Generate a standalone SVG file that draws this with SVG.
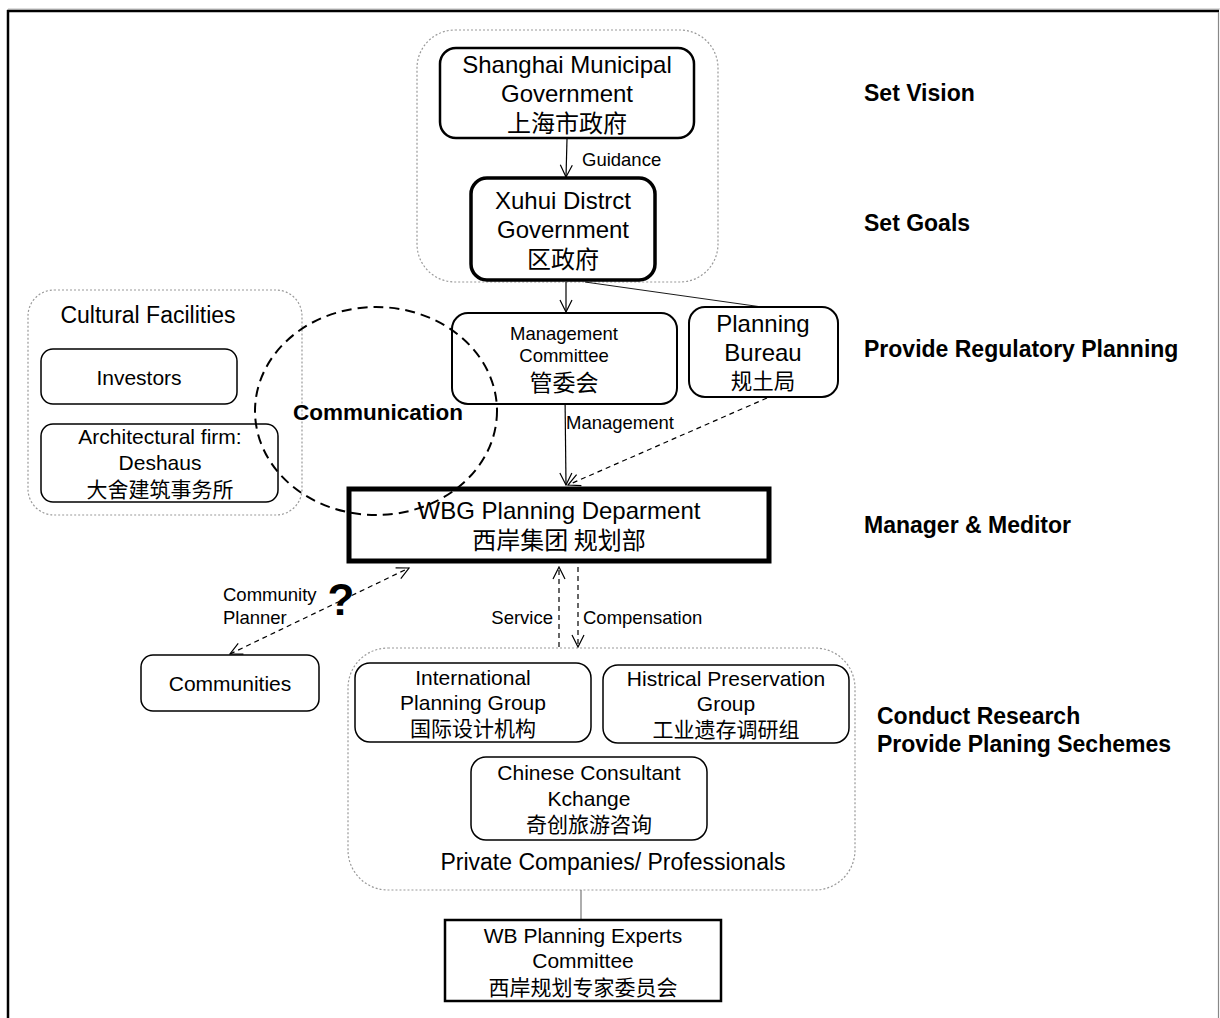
<svg xmlns="http://www.w3.org/2000/svg" width="1220" height="1018" viewBox="0 0 1220 1018">
<defs>
<marker id="open" viewBox="0 0 14 14" refX="13" refY="7" markerWidth="14" markerHeight="14" markerUnits="userSpaceOnUse" orient="auto-start-reverse">
<path d="M1,1 L13,7 L1,13" fill="none" stroke="#000" stroke-width="1.2"/>
</marker>
</defs>
<style>
text{font-family:"Liberation Sans",Arial,"Noto Sans CJK SC",sans-serif;fill:#000;text-anchor:middle}
.cn{font-family:"Noto Sans CJK SC","Liberation Sans",sans-serif}
.box{fill:#fff;stroke:#000}
.grp{fill:none;stroke:#999;stroke-width:1.2;stroke-dasharray:2,2}
.lbl{font-weight:bold;font-size:23px;text-anchor:start}
.t24{font-size:24px}
.t21{font-size:21px}
.t18{font-size:18.5px}
.conn{fill:none;stroke:#000;stroke-width:1.2}
.dash{stroke-dasharray:5,4}
</style>
<rect width="1220" height="1018" fill="#fff"/>
<g id="frame">
<line x1="8" y1="9" x2="1220" y2="9" stroke="#bbb" stroke-width="1"/>
<line x1="7" y1="11" x2="1219" y2="11" stroke="#000" stroke-width="2.5"/>
<line x1="8" y1="10" x2="8" y2="1018" stroke="#000" stroke-width="2.5"/>
<line x1="1218.5" y1="12" x2="1218.5" y2="1018" stroke="#888" stroke-width="1.2"/>
</g>
<g id="groups">
<rect class="grp" x="417" y="30" width="301" height="252" rx="38"/>
<rect class="grp" x="28" y="290" width="274" height="225" rx="26"/>
<rect class="grp" x="348" y="648" width="507" height="242" rx="40"/>
</g>
<g id="connectors">
<line class="conn" x1="567" y1="139" x2="566" y2="177" marker-end="url(#open)"/>
<line class="conn" x1="566" y1="282" x2="566" y2="312" marker-end="url(#open)"/>
<line class="conn" x1="585" y1="282" x2="762" y2="307" style="stroke-width:0.9"/>
<line class="conn" x1="565" y1="395" x2="566" y2="485" marker-end="url(#open)"/>
<line class="conn dash" x1="767" y1="398" x2="568" y2="485" marker-end="url(#open)"/>
<line class="conn dash" x1="230" y1="654" x2="409" y2="568" marker-start="url(#open)" marker-end="url(#open)"/>
<line class="conn dash" x1="559" y1="647" x2="559" y2="567" marker-end="url(#open)"/>
<line class="conn dash" x1="578" y1="567" x2="578" y2="647" marker-end="url(#open)"/>
<line class="conn" x1="581" y1="890" x2="581" y2="920" style="stroke:#777"/>
</g>
<g id="shanghai">
<rect class="box" x="440" y="48" width="254" height="90" rx="16" style="stroke-width:2.5"/>
<text class="t24" x="567" y="73">Shanghai Municipal</text>
<text class="t24" x="567" y="102">Government</text>
<text class="t24 cn" x="567" y="132">上海市政府</text>
</g>
<text class="t18" x="582" y="166" style="text-anchor:start">Guidance</text>
<g id="xuhui">
<rect class="box" x="471" y="178" width="184" height="102" rx="16" style="stroke-width:3.5"/>
<text class="t24" x="563" y="209">Xuhui Distrct</text>
<text class="t24" x="563" y="238">Government</text>
<text class="t24 cn" x="563" y="268">区政府</text>
</g>
<g id="management-committee">
<rect class="box" x="452" y="313" width="225" height="91" rx="16" style="stroke-width:2"/>
<text class="t18" x="564" y="340">Management</text>
<text class="t18" x="564" y="362">Committee</text>
<text class="cn" x="564" y="391" font-size="23">管委会</text>
</g>
<g id="planning-bureau">
<rect class="box" x="689" y="307" width="149" height="90" rx="16" style="stroke-width:2"/>
<text class="t24" x="763" y="332">Planning</text>
<text class="t24" x="763" y="361">Bureau</text>
<text class="cn" x="763" y="389" font-size="21.5">规土局</text>
</g>
<text class="t18" x="566" y="429" style="text-anchor:start">Management</text>
<g id="cultural">
<text x="148" y="323" font-size="23">Cultural Facilities</text>
</g>
<g id="investors">
<rect class="box" x="41" y="349" width="196" height="55" rx="12" style="stroke-width:1.5"/>
<text class="t21" x="139" y="385">Investors</text>
</g>
<g id="architectural-firm">
<rect class="box" x="41" y="424" width="237" height="78" rx="12" style="stroke-width:1.5"/>
<text class="t21" x="160" y="444">Architectural firm:</text>
<text class="t21" x="160" y="470">Deshaus</text>
<text class="t21 cn" x="160" y="497">大舍建筑事务所</text>
</g>
<g id="wbg">
<rect class="box" x="349" y="489" width="420" height="72" style="stroke-width:5"/>
</g>
<g id="communication">
<ellipse cx="376" cy="411" rx="121" ry="104" fill="none" stroke="#000" stroke-width="2" stroke-dasharray="10,6"/>
<text x="378" y="420" font-size="22.5" font-weight="bold">Communication</text>
</g>
<text class="t24" x="559" y="519">WBG Planning Deparment</text>
<text class="t24 cn" x="559" y="549">西岸集团 规划部</text>
<g id="communities">
<rect class="box" x="141" y="655" width="178" height="56" rx="12" style="stroke-width:1.5"/>
<text class="t21" x="230" y="691">Communities</text>
</g>
<text class="t18" x="223" y="601" style="text-anchor:start">Community</text>
<text class="t18" x="223" y="624" style="text-anchor:start">Planner</text>
<text x="341" y="615" font-size="44" font-weight="bold">?</text>
<text class="t18" x="553" y="624" style="text-anchor:end">Service</text>
<text class="t18" x="583" y="624" style="text-anchor:start">Compensation</text>
<g id="international">
<rect class="box" x="355" y="663" width="236" height="79" rx="15" style="stroke-width:1.5"/>
<text class="t21" x="473" y="685">International</text>
<text class="t21" x="473" y="710">Planning Group</text>
<text class="t21 cn" x="473" y="736">国际设计机构</text>
</g>
<g id="historical">
<rect class="box" x="603" y="665" width="246" height="78" rx="15" style="stroke-width:1.5"/>
<text class="t21" x="726" y="686">Histrical Preservation</text>
<text class="t21" x="726" y="711">Group</text>
<text class="t21 cn" x="726" y="737">工业遗存调研组</text>
</g>
<g id="chinese-consultant">
<rect class="box" x="471" y="757" width="236" height="83" rx="15" style="stroke-width:1.5"/>
<text class="t21" x="589" y="780">Chinese Consultant</text>
<text class="t21" x="589" y="806">Kchange</text>
<text class="t21 cn" x="589" y="832">奇创旅游咨询</text>
</g>
<text x="613" y="870" font-size="23">Private Companies/ Professionals</text>
<g id="experts">
<rect class="box" x="445" y="920" width="276" height="81" style="stroke-width:2.5"/>
<text class="t21" x="583" y="943">WB Planning Experts</text>
<text class="t21" x="583" y="968">Committee</text>
<text class="t21 cn" x="583" y="995">西岸规划专家委员会</text>
</g>
<g id="labels">
<text class="lbl" x="864" y="101">Set Vision</text>
<text class="lbl" x="864" y="231">Set Goals</text>
<text class="lbl" x="864" y="357">Provide Regulatory Planning</text>
<text class="lbl" x="864" y="533">Manager &amp; Meditor</text>
<text class="lbl" x="877" y="724">Conduct Research</text>
<text class="lbl" x="877" y="752">Provide Planing Sechemes</text>
</g>
</svg>
